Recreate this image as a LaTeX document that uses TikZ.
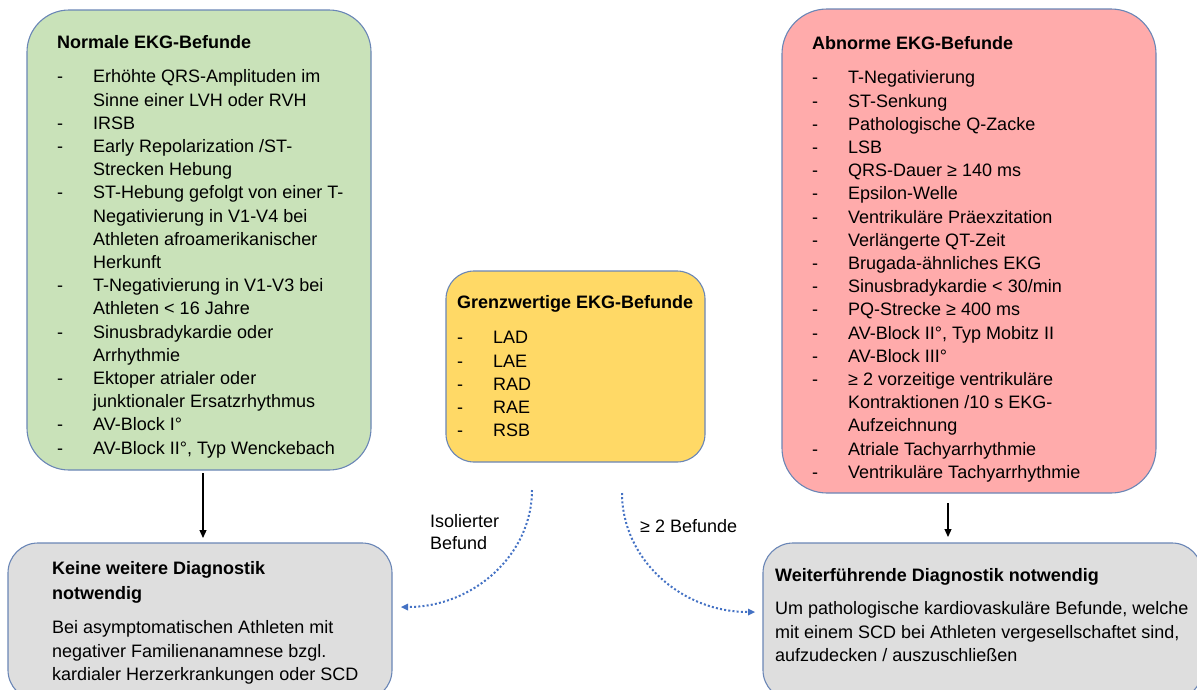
\documentclass[tikz,border=0pt]{standalone}
\usepackage{fontspec}
\setmainfont{Liberation Sans}
\usetikzlibrary{arrows.meta}
\definecolor{bordc}{HTML}{6A86B6}
\definecolor{greenf}{HTML}{C9E2B9}
\definecolor{redf}{HTML}{FFABAB}
\definecolor{yellowf}{HTML}{FFD966}
\definecolor{grayf}{HTML}{DEDEDE}
\definecolor{dotblue}{HTML}{4472C4}
\newcommand{\dashitem}[1]{\makebox[36pt][l]{-}#1}
\newcommand{\contline}[1]{\hspace*{36pt}#1}
\begin{document}
\begin{tikzpicture}[x=1pt,y=-1pt,
  box/.style={draw=bordc, line width=1.1pt, rectangle, inner sep=0pt, outer sep=0pt},
  txt/.style={anchor=north west, inner sep=0pt, align=left, font={\fontsize{18}{23.2}\selectfont}},
  lbl/.style={anchor=west, inner sep=0pt, align=left, font={\fontsize{18}{22}\selectfont}},
  blackarrow/.style={-{Triangle[length=8pt,width=7pt]}, line width=1.2pt, black},
  dotarrow/.style={-{Triangle[length=7pt,width=7pt,line width=0pt]}, line width=2pt, dotblue, dash pattern=on 2pt off 2.2pt}]
\useasboundingbox (0,0) rectangle (1197,689);
\clip (0,0) rectangle (1197,689);
% boxes
\node[box, fill=greenf, rounded corners=42pt, minimum width=344pt, minimum height=460pt] (green) at (199,240) {};
\node[box, fill=redf, rounded corners=45pt, minimum width=374pt, minimum height=484pt] (red) at (969,251) {};
\node[box, fill=yellowf, rounded corners=28pt, minimum width=259pt, minimum height=191pt] (yellow) at (575.5,366.5) {};
\node[box, fill=grayf, rounded corners=30pt, minimum width=384pt, minimum height=157pt] (gl) at (200,621.5) {};
\node[box, fill=grayf, rounded corners=30pt, minimum width=439pt, minimum height=157pt] (gr) at (982.5,621.5) {};
% texts
\node[txt] (greentxt) at (57,35.4) {\textbf{Normale EKG-Befunde}\\[11pt]
\dashitem{Erhöhte QRS-Amplituden im}\\
\contline{Sinne einer LVH oder RVH}\\
\dashitem{IRSB}\\
\dashitem{Early Repolarization /ST-}\\
\contline{Strecken Hebung}\\
\dashitem{ST-Hebung gefolgt von einer T-}\\
\contline{Negativierung in V1-V4 bei}\\
\contline{Athleten afroamerikanischer}\\
\contline{Herkunft}\\
\dashitem{T-Negativierung in V1-V3 bei}\\
\contline{Athleten < 16 Jahre}\\
\dashitem{Sinusbradykardie oder}\\
\contline{Arrhythmie}\\
\dashitem{Ektoper atrialer oder}\\
\contline{junktionaler Ersatzrhythmus}\\
\dashitem{AV-Block I°}\\
\dashitem{AV-Block II°, Typ Wenckebach}};
\node[txt] (redtxt) at (812,36.4) {\textbf{Abnorme EKG-Befunde}\\[11pt]
\dashitem{T-Negativierung}\\
\dashitem{ST-Senkung}\\
\dashitem{Pathologische Q-Zacke}\\
\dashitem{LSB}\\
\dashitem{QRS-Dauer ≥ 140 ms}\\
\dashitem{Epsilon-Welle}\\
\dashitem{Ventrikuläre Präexzitation}\\
\dashitem{Verlängerte QT-Zeit}\\
\dashitem{Brugada-ähnliches EKG}\\
\dashitem{Sinusbradykardie < 30/min}\\
\dashitem{PQ-Strecke ≥ 400 ms}\\
\dashitem{AV-Block II°, Typ Mobitz II}\\
\dashitem{AV-Block III°}\\
\dashitem{≥ 2 vorzeitige ventrikuläre}\\
\contline{Kontraktionen /10 s EKG-}\\
\contline{Aufzeichnung}\\
\dashitem{Atriale Tachyarrhythmie}\\
\dashitem{Ventrikuläre Tachyarrhythmie}};
\node[txt] (yellowtxt) at (457,295.4) {\textbf{Grenzwertige EKG-Befunde}\\[12pt]
\dashitem{LAD}\\
\dashitem{LAE}\\
\dashitem{RAD}\\
\dashitem{RAE}\\
\dashitem{RSB}};
\node[txt, font={\fontsize{18}{24.4}\selectfont}] (gltitle) at (52,561.4) {\textbf{Keine weitere Diagnostik}\\\textbf{notwendig}};
\node[txt, font={\fontsize{18}{23.6}\selectfont}] (glbody) at (52,620.2) {Bei asymptomatischen Athleten mit\\
negativer Familienanamnese bzgl.\\
kardialer Herzerkrankungen oder SCD};
\node[txt] (grtitle) at (775,568.4) {\textbf{Weiterführende Diagnostik notwendig}};
\node[txt, font={\fontsize{18}{23.6}\selectfont}] (grbody) at (775,601.2) {Um pathologische kardiovaskuläre Befunde, welche\\
mit einem SCD bei Athleten vergesellschaftet sind,\\
aufzudecken / auszuschließen};
% labels
\node[lbl] (liso) at (430,532) {Isolierter\\Befund};
\node[lbl] (lzwei) at (640,525.7) {≥ 2 Befunde};
% connectors
\draw[blackarrow] ([xshift=4pt,yshift=-3pt]green.south) -- ([xshift=3pt,yshift=5pt]gl.north);
\draw[blackarrow] ([xshift=-21pt,yshift=-10pt]red.south) -- ([xshift=-34.5pt,yshift=6pt]gr.north);
\coordinate (ls) at (532,490);
\coordinate (le) at (401,607);
\coordinate (rs) at (622,493);
\coordinate (re) at (755,612);
\draw[dotarrow] (ls) .. controls (532,555) and (473,607) .. (le);
\draw[dotarrow] (rs) .. controls (622,559) and (681,612) .. (re);
\end{tikzpicture}
\end{document}
